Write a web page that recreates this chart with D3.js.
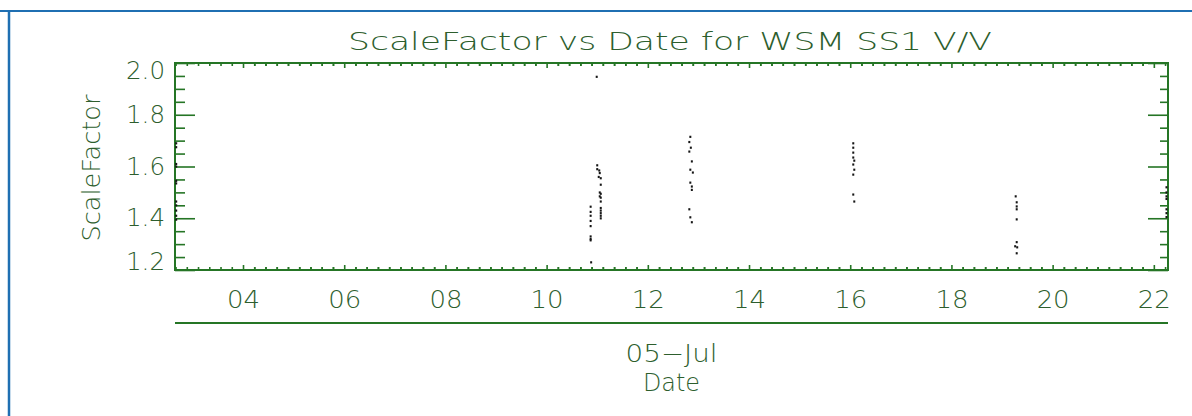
<!DOCTYPE html>
<html>
<head>
<meta charset="utf-8">
<script src="https://cdn.jsdelivr.net/npm/d3@7"></script>
<style>
  body { margin: 0; background: #fff; }
  svg { display: block; }
  text { font-family: "DejaVu Sans", sans-serif; font-weight: 200; fill: #2d5e2d; }
</style>
</head>
<body>
<div id="chart"></div>
<script>
// data (day of July 2005, scale factor)
var obsDay = [
  2.68, 2.68, 2.68, 2.68, 2.68, 2.68, 2.68, 2.68, 2.68, 2.68, 2.68,
  10.99, 11.0, 11.0, 11.04, 11.05, 11.03, 11.07, 11.07, 11.05, 11.07, 11.05, 11.07, 11.07,
  11.07, 11.07, 11.07, 11.07, 11.07, 10.87, 10.87, 10.87, 10.87, 10.87, 10.87, 10.87, 10.87, 10.88,
  12.84, 12.82, 12.85, 12.82, 12.87, 12.84, 12.89, 12.84, 12.87, 12.87, 12.82, 12.84, 12.87,
  16.06, 16.06, 16.06, 16.06, 16.08, 16.06, 16.08, 16.06, 16.06, 16.08,
  19.27, 19.29, 19.29, 19.29, 19.29, 19.29, 19.26, 19.30, 19.29,
  22.25, 22.25, 22.25, 22.25, 22.25, 22.25, 22.25
];
var scaleFactor = [
  1.69, 1.675, 1.61, 1.60, 1.545, 1.535, 1.465, 1.45, 1.43, 1.41, 1.395,
  1.947, 1.605, 1.59, 1.585, 1.575, 1.56, 1.555, 1.53, 1.50, 1.495, 1.485, 1.48, 1.465,
  1.44, 1.43, 1.42, 1.41, 1.40, 1.445, 1.425, 1.41, 1.39, 1.37, 1.33, 1.32, 1.315, 1.23,
  1.715, 1.695, 1.673, 1.658, 1.62, 1.588, 1.577, 1.538, 1.523, 1.51, 1.435, 1.404, 1.385,
  1.69, 1.673, 1.654, 1.635, 1.623, 1.608, 1.588, 1.569, 1.492, 1.465,
  1.485, 1.462, 1.446, 1.435, 1.396, 1.308, 1.292, 1.288, 1.265,
  1.52, 1.50, 1.485, 1.475, 1.435, 1.42, 1.405
];
var xTickDays = [4, 6, 8, 10, 12, 14, 16, 18, 20, 22];
var yTicks = [1.2, 1.4, 1.6, 1.8, 2.0];

var svgWidth = 1192;
var svgHeight = 416;
var margin = { top: 63, right: 24, bottom: 146, left: 175 };
var chartWidth = svgWidth - margin.left - margin.right;
var chartHeight = svgHeight - margin.top - margin.bottom;

var lineColor = "#257525";

function julyDate(d) {
  return new Date(Date.UTC(2005, 6, 1) + (d - 1) * 864e5);
}

var svg = d3.select("#chart").append("svg")
  .attr("width", svgWidth)
  .attr("height", svgHeight);

svg.append("rect").attr("width", svgWidth).attr("height", svgHeight).attr("fill", "#fff");

// blue frame of the page
svg.append("line").attr("x1", 0).attr("x2", svgWidth).attr("y1", 11).attr("y2", 11)
  .attr("stroke", "#1f6fb2").attr("stroke-width", 2);
svg.append("line").attr("x1", 9).attr("x2", 9).attr("y1", 10).attr("y2", svgHeight)
  .attr("stroke", "#1f6fb2").attr("stroke-width", 2.5);

var g = svg.append("g").attr("transform", `translate(${margin.left}, ${margin.top})`);

var x = d3.scaleUtc()
  .domain([julyDate(2.656), julyDate(22.28)])
  .range([0, chartWidth]);
var y = d3.scaleLinear()
  .domain([1.2, 2.0])
  .range([chartHeight, 0]);

var majorDates = xTickDays.map(julyDate);
var minorDates = [];
xTickDays.forEach(function(d) {
  for (var k = -8; k <= 8; k++) {
    var md = d + k * 2 / 9;
    if (k % 9 !== 0 && md > 2.656 && md < 22.28) minorDates.push(julyDate(md));
  }
});
var yMinor = d3.range(1.25, 2.0, 0.05).filter(function(v) {
  return Math.abs(Math.round(v * 5) - v * 5) > 0.01;
});

function styleAxis(sel) {
  sel.select(".domain").remove();
  sel.selectAll(".tick line").attr("stroke", lineColor).attr("stroke-width", 1.6);
  sel.selectAll(".tick text").attr("fill", "#2d5e2d").style("font-size", "24px")
    .style("font-family", "DejaVu Sans, sans-serif");
}

// x axis bottom (labels) and top
g.append("g").attr("transform", `translate(0, ${chartHeight})`)
  .call(d3.axisBottom(x).tickValues(majorDates).tickSize(-5).tickPadding(21)
    .tickFormat(d3.utcFormat("%d")))
  .call(styleAxis)
  .selectAll(".tick text").attr("textLength", 33).attr("lengthAdjust", "spacingAndGlyphs");
g.append("g").attr("transform", `translate(0, ${chartHeight})`)
  .call(d3.axisBottom(x).tickValues(minorDates).tickSize(-3).tickFormat(""))
  .call(styleAxis);
g.append("g")
  .call(d3.axisTop(x).tickValues(majorDates).tickSize(-5).tickFormat(""))
  .call(styleAxis);
g.append("g")
  .call(d3.axisTop(x).tickValues(minorDates).tickSize(-3).tickFormat(""))
  .call(styleAxis);

// y axis left (labels) and right
var yLeft = g.append("g")
  .call(d3.axisLeft(y).tickValues(yTicks).tickSize(-20).tickPadding(10)
    .tickFormat(d3.format(".1f")))
  .call(styleAxis);
yLeft.selectAll(".tick text")
  .attr("textLength", 39).attr("lengthAdjust", "spacingAndGlyphs")
  .attr("transform", function(d) { return d === 2.0 ? "translate(0,8)" : d === 1.2 ? "translate(0,-8)" : null; });
g.append("g")
  .call(d3.axisLeft(y).tickValues(yMinor).tickSize(-10).tickFormat(""))
  .call(styleAxis);
g.append("g").attr("transform", `translate(${chartWidth}, 0)`)
  .call(d3.axisRight(y).tickValues(yTicks).tickSize(-20).tickFormat(""))
  .call(styleAxis);
g.append("g").attr("transform", `translate(${chartWidth}, 0)`)
  .call(d3.axisRight(y).tickValues(yMinor).tickSize(-8).tickFormat(""))
  .call(styleAxis);

// plot frame
g.append("rect")
  .attr("width", chartWidth).attr("height", chartHeight)
  .attr("fill", "none").attr("stroke", lineColor).attr("stroke-width", 2);

// points
var pts = obsDay.map(function(d, i) { return { date: julyDate(d), v: scaleFactor[i] }; });
g.selectAll("rect.pt").data(pts).enter().append("rect")
  .attr("class", "pt")
  .attr("x", function(d) { return x(d.date) - 1; })
  .attr("y", function(d) { return y(d.v) - 1; })
  .attr("width", 2).attr("height", 2.2)
  .attr("fill", "#151515");

// secondary date axis line
g.append("line")
  .attr("x1", 0).attr("x2", chartWidth)
  .attr("y1", chartHeight + 53).attr("y2", chartHeight + 53)
  .attr("stroke", lineColor).attr("stroke-width", 2);

// title and axis titles
svg.append("text")
  .attr("x", 348).attr("y", 50)
  .attr("textLength", 644).attr("lengthAdjust", "spacingAndGlyphs")
  .style("font-size", "25px")
  .text("ScaleFactor vs Date for WSM SS1 V/V");

svg.append("text")
  .attr("transform", "translate(100, 168) rotate(-90)")
  .attr("text-anchor", "middle")
  .attr("textLength", 147).attr("lengthAdjust", "spacingAndGlyphs")
  .style("font-size", "24px")
  .text("ScaleFactor");

svg.append("text")
  .attr("x", margin.left + chartWidth / 2).attr("y", 362)
  .attr("text-anchor", "middle")
  .attr("textLength", 92).attr("lengthAdjust", "spacingAndGlyphs")
  .style("font-size", "24px")
  .text("05−Jul");

svg.append("text")
  .attr("x", margin.left + chartWidth / 2).attr("y", 391)
  .attr("text-anchor", "middle")
  .attr("textLength", 57).attr("lengthAdjust", "spacingAndGlyphs")
  .style("font-size", "24px")
  .text("Date");
</script>
</body>
</html>
